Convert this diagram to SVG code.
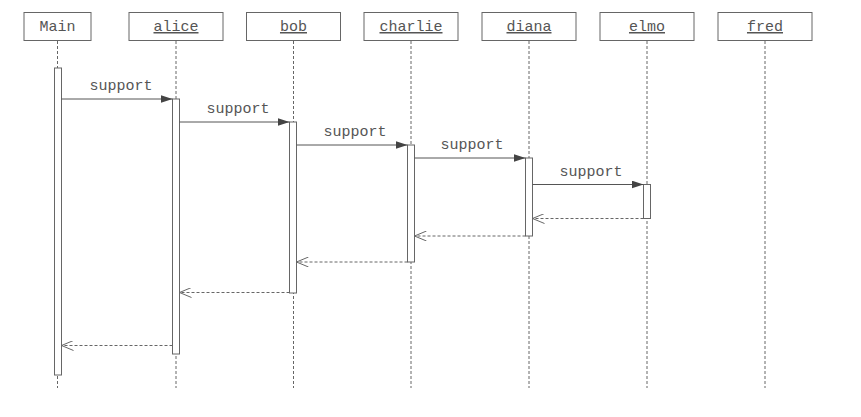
<svg xmlns="http://www.w3.org/2000/svg" width="861" height="417" viewBox="0 0 861 417">
<style>
.hd{fill:#fff;stroke:#666;stroke-width:1}
.t{font-family:"Liberation Mono","DejaVu Sans Mono",monospace;font-size:15px;fill:#555;text-anchor:middle}
.u{text-decoration:underline}
.life{stroke:#666;stroke-width:1;stroke-dasharray:3,2;fill:none}
.act{fill:#fff;stroke:#666;stroke-width:1}
.msg{stroke:#555;stroke-width:1;fill:none}
.ret{stroke:#666;stroke-width:1;stroke-dasharray:3,2;fill:none}
</style>
<defs>
<marker id="solid" markerWidth="12" markerHeight="8" refX="12" refY="4" orient="auto" markerUnits="userSpaceOnUse">
<path d="M0,0 L12,4 L0,8 Z" fill="#444"/>
</marker>
<marker id="open" markerWidth="14" markerHeight="10" refX="13" refY="5" orient="auto" markerUnits="userSpaceOnUse">
<path d="M1,0 L13,5 L1,10" fill="none" stroke="#666" stroke-width="1"/>
</marker>
</defs>
<rect width="861" height="417" fill="#fff"/>
<g id="lifelines">
<line class="life" x1="57.5" y1="41" x2="57.5" y2="388"/>
<line class="life" x1="176" y1="41" x2="176" y2="388"/>
<line class="life" x1="293.5" y1="41" x2="293.5" y2="388"/>
<line class="life" x1="411" y1="41" x2="411" y2="388"/>
<line class="life" x1="529" y1="41" x2="529" y2="388"/>
<line class="life" x1="647" y1="41" x2="647" y2="388"/>
<line class="life" x1="765" y1="41" x2="765" y2="388"/>
</g>
<g id="Main">
<rect class="hd" x="24" y="12.5" width="67" height="28"/>
<text class="t" x="57.5" y="31">Main</text>
<rect class="act" x="54.5" y="68" width="7" height="307"/>
</g>
<g id="alice">
<rect class="hd" x="129" y="12.5" width="94" height="28"/>
<text class="t u" x="176" y="31">alice</text>
<rect class="act" x="172.5" y="99" width="7" height="255"/>
</g>
<g id="bob">
<rect class="hd" x="246.5" y="12.5" width="94" height="28"/>
<text class="t u" x="293.5" y="31">bob</text>
<rect class="act" x="289.5" y="122" width="7" height="171"/>
</g>
<g id="charlie">
<rect class="hd" x="364" y="12.5" width="94" height="28"/>
<text class="t u" x="411" y="31">charlie</text>
<rect class="act" x="407.5" y="145" width="7" height="117"/>
</g>
<g id="diana">
<rect class="hd" x="482" y="12.5" width="94" height="28"/>
<text class="t u" x="529" y="31">diana</text>
<rect class="act" x="525.5" y="158" width="7" height="78"/>
</g>
<g id="elmo">
<rect class="hd" x="600" y="12.5" width="94" height="28"/>
<text class="t u" x="647" y="31">elmo</text>
<rect class="act" x="643.5" y="184.5" width="7" height="34"/>
</g>
<g id="fred">
<rect class="hd" x="718" y="12.5" width="94" height="28"/>
<text class="t u" x="765" y="31">fred</text>
</g>
<g id="connectors">
<line class="msg" x1="61.5" y1="99" x2="172.5" y2="99" marker-end="url(#solid)"/>
<text class="t" x="121" y="90">support</text>
<line class="msg" x1="179.5" y1="122" x2="289.5" y2="122" marker-end="url(#solid)"/>
<text class="t" x="238" y="113">support</text>
<line class="msg" x1="296.5" y1="145" x2="407.5" y2="145" marker-end="url(#solid)"/>
<text class="t" x="355" y="136">support</text>
<line class="msg" x1="414.5" y1="158" x2="525.5" y2="158" marker-end="url(#solid)"/>
<text class="t" x="472" y="149">support</text>
<line class="msg" x1="532.5" y1="184.5" x2="643.5" y2="184.5" marker-end="url(#solid)"/>
<text class="t" x="591" y="175.5">support</text>
<line class="ret" x1="643.5" y1="218.5" x2="532.5" y2="218.5" marker-end="url(#open)"/>
<line class="ret" x1="525.5" y1="236" x2="414.5" y2="236" marker-end="url(#open)"/>
<line class="ret" x1="407.5" y1="262" x2="296.5" y2="262" marker-end="url(#open)"/>
<line class="ret" x1="289.5" y1="292.5" x2="179.5" y2="292.5" marker-end="url(#open)"/>
<line class="ret" x1="172.5" y1="345.5" x2="61.5" y2="345.5" marker-end="url(#open)"/>
</g>
</svg>
